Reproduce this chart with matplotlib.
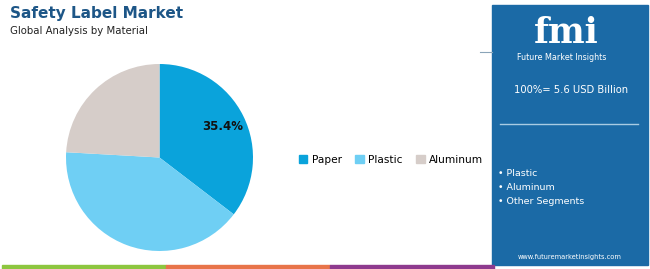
import matplotlib.pyplot as plt
from matplotlib.patches import Rectangle

# data
materials = ['Paper', 'Plastic', 'Aluminum']
shares = [35.4, 40.5, 24.1]
colors = ['#0aa3db', '#6fcff4', '#d6cdc9']
side_items = ['Plastic', 'Aluminum', 'Other Segments']
total_label = '100%= 5.6 USD Billion'

W, H = 650, 269
fig = plt.figure(figsize=(W / 100, H / 100), dpi=100)
fig.patch.set_facecolor('white')

def px(x, y):
    return x / W, 1 - y / H

# title
fig.text(*px(10, 14), 'Safety Label Market', fontsize=11, fontweight='bold',
         color='#1d5687', va='center', ha='left')
fig.text(*px(10, 31), 'Global Analysis by Material', fontsize=7.3,
         color='#222222', va='center', ha='left')

# pie
ax = fig.add_axes([66 / W, 1 - 252 / H, 187 / W, 189 / H])
wedges, _ = ax.pie(shares, colors=colors, startangle=90, counterclock=False,
                   radius=1)
ax.set_xlim(-1, 1)
ax.set_ylim(-1, 1)
ax.set_aspect('equal')
ax.text(0.68, 0.33, f'{shares[0]}%', fontsize=8.5, fontweight='bold',
        ha='center', va='center', color='#111111')

# legend
handles = [Rectangle((0, 0), 1, 1, color=c) for c in colors]
fig.legend(handles, materials, loc='center', bbox_to_anchor=px(391, 160),
           ncol=3, frameon=False, fontsize=7.6, handlelength=0.8,
           handleheight=0.8, columnspacing=1.3, handletextpad=0.4)

# right panel
fig.add_artist(Rectangle(px(492, 265), 156 / W, 260 / H, transform=fig.transFigure,
                         color='#1b6aa6', zorder=0))
fig.add_artist(plt.Line2D([480 / W, 492 / W], [1 - 52 / H] * 2, transform=fig.transFigure,
                          color='#8aa4b8', lw=0.8))
fig.text(*px(566, 43), 'fmi', fontsize=25, fontweight='bold', color='white',
         ha='center', va='baseline', family='DejaVu Serif')
fig.text(*px(562, 57), 'Future Market Insights', fontsize=5.8, color='white',
         ha='center', va='center')
fig.text(*px(571, 90), total_label, fontsize=7.2, color='white',
         ha='center', va='center')
fig.add_artist(plt.Line2D([500 / W, 638 / W], [1 - 124 / H] * 2, transform=fig.transFigure,
                          color='#a9cbe3', lw=1))
for i, item in enumerate(side_items):
    fig.text(*px(498, 174 + i * 13.5), '\u2022 ' + item, fontsize=6.8, color='white',
             ha='left', va='center')
fig.text(*px(570, 257), 'www.futuremarketinsights.com', fontsize=4.8, color='white',
         ha='center', va='center')

# bottom strip
strip = ['#8dc63f', '#e8744a', '#8e3a8e']
for i, c in enumerate(strip):
    fig.add_artist(Rectangle(px(2 + i * 164, 269), 164 / W, 4 / H,
                             transform=fig.transFigure, color=c))

fig.savefig('out.png', dpi=100)
